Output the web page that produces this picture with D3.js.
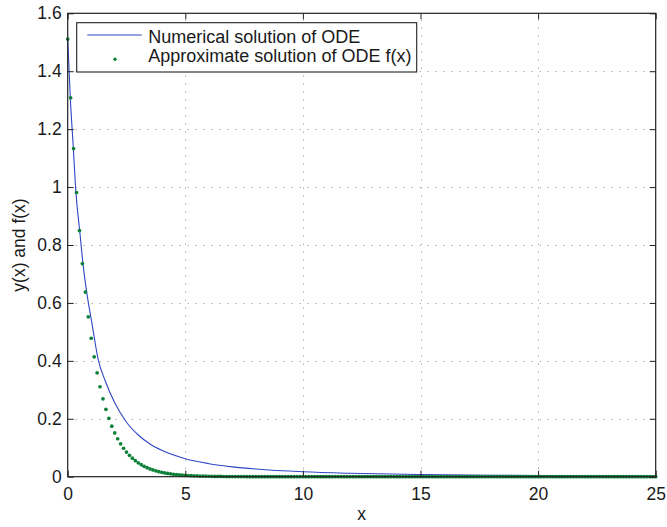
<!DOCTYPE html>
<html>
<head>
<meta charset="utf-8">
<script src="https://cdn.jsdelivr.net/npm/d3@7"></script>
<style>
  html, body { margin: 0; padding: 0; background: #fff; }
  svg { display: block; font-family: "Liberation Sans", Arial, Helvetica, sans-serif; }
</style>
</head>
<body>
<svg id="chart" width="667" height="527"></svg>
<script>
// Numerical solution of the ODE (sampled along the curve)
const xNumerical = [0, 0.11, 0.24, 0.35, 0.51, 0.66, 0.83, 1.03, 1.3, 1.59, 2.0, 2.5, 3.0, 3.5, 4.0, 5, 6, 7, 8, 10, 12, 15, 18, 20, 25];
const yNumerical = [1.511, 1.309, 1.133, 0.981, 0.849, 0.728, 0.625, 0.53, 0.403, 0.332, 0.255, 0.188, 0.144, 0.113, 0.091, 0.062, 0.045, 0.034, 0.0265, 0.017, 0.0118, 0.0075, 0.0052, 0.0042, 0.0026];

// Approximate solution f(x), evaluated on a grid of step 0.125
const xApprox = [
  0, 0.125, 0.25, 0.375, 0.5, 0.625, 0.75, 0.875,
  1, 1.125, 1.25, 1.375, 1.5, 1.625, 1.75, 1.875,
  2, 2.125, 2.25, 2.375, 2.5, 2.625, 2.75, 2.875,
  3, 3.125, 3.25, 3.375, 3.5, 3.625, 3.75, 3.875,
  4, 4.125, 4.25, 4.375, 4.5, 4.625, 4.75, 4.875,
  5, 5.125, 5.25, 5.375, 5.5, 5.625, 5.75, 5.875,
  6, 6.125, 6.25, 6.375, 6.5, 6.625, 6.75, 6.875,
  7, 7.125, 7.25, 7.375, 7.5, 7.625, 7.75, 7.875,
  8, 8.125, 8.25, 8.375, 8.5, 8.625, 8.75, 8.875,
  9, 9.125, 9.25, 9.375, 9.5, 9.625, 9.75, 9.875,
  10, 10.125, 10.25, 10.375, 10.5, 10.625, 10.75, 10.875,
  11, 11.125, 11.25, 11.375, 11.5, 11.625, 11.75, 11.875,
  12, 12.125, 12.25, 12.375, 12.5, 12.625, 12.75, 12.875,
  13, 13.125, 13.25, 13.375, 13.5, 13.625, 13.75, 13.875,
  14, 14.125, 14.25, 14.375, 14.5, 14.625, 14.75, 14.875,
  15, 15.125, 15.25, 15.375, 15.5, 15.625, 15.75, 15.875,
  16, 16.125, 16.25, 16.375, 16.5, 16.625, 16.75, 16.875,
  17, 17.125, 17.25, 17.375, 17.5, 17.625, 17.75, 17.875,
  18, 18.125, 18.25, 18.375, 18.5, 18.625, 18.75, 18.875,
  19, 19.125, 19.25, 19.375, 19.5, 19.625, 19.75, 19.875,
  20, 20.125, 20.25, 20.375, 20.5, 20.625, 20.75, 20.875,
  21, 21.125, 21.25, 21.375, 21.5, 21.625, 21.75, 21.875,
  22, 22.125, 22.25, 22.375, 22.5, 22.625, 22.75, 22.875,
  23, 23.125, 23.25, 23.375, 23.5, 23.625, 23.75, 23.875,
  24, 24.125, 24.25, 24.375, 24.5, 24.625, 24.75, 24.875,
  25
];
const yApprox = [
  1.511, 1.3085, 1.1332, 0.9813, 0.8498, 0.7360, 0.6374, 0.5520,
  0.4780, 0.4140, 0.3585, 0.3105, 0.2689, 0.2328, 0.2016, 0.1746,
  0.1512, 0.1310, 0.1134, 0.0982, 0.0851, 0.0737, 0.0638, 0.0552,
  0.0478, 0.0414, 0.0359, 0.0311, 0.0269, 0.0233, 0.0202, 0.0175,
  0.0151, 0.0131, 0.0113, 0.0098, 0.0085, 0.0074, 0.0064, 0.0055,
  0.0048, 0.0041, 0.0036, 0.0031, 0.0027, 0.0023, 0.0020, 0.0017,
  0.0015, 0.0013, 0.0011, 0.0010, 0.0008, 0.0007, 0.0006, 0.0005,
  0.0005, 0.0004, 0.0003, 0.0003, 0.0003, 0.0002, 0.0002, 0.0002,
  0.0001, 0.0001, 0.0001, 0.0001, 0.0001, 0.0001, 0.0001, 0,
  0, 0, 0, 0, 0, 0, 0, 0,
  0, 0, 0, 0, 0, 0, 0, 0,
  0, 0, 0, 0, 0, 0, 0, 0,
  0, 0, 0, 0, 0, 0, 0, 0,
  0, 0, 0, 0, 0, 0, 0, 0,
  0, 0, 0, 0, 0, 0, 0, 0,
  0, 0, 0, 0, 0, 0, 0, 0,
  0, 0, 0, 0, 0, 0, 0, 0,
  0, 0, 0, 0, 0, 0, 0, 0,
  0, 0, 0, 0, 0, 0, 0, 0,
  0, 0, 0, 0, 0, 0, 0, 0,
  0, 0, 0, 0, 0, 0, 0, 0,
  0, 0, 0, 0, 0, 0, 0, 0,
  0, 0, 0, 0, 0, 0, 0, 0,
  0, 0, 0, 0, 0, 0, 0, 0,
  0, 0, 0, 0, 0, 0, 0, 0,
  0
];

const xTicks = [0, 5, 10, 15, 20, 25];
const yTicks = [0, 0.2, 0.4, 0.6, 0.8, 1, 1.2, 1.4, 1.6];
const seriesNames = ["Numerical solution of ODE", "Approximate solution of ODE f(x)"];
const xLabel = "x";
const yLabel = "y(x) and f(x)";

// Layout
const W = 667, H = 527;
const plot = { left: 67.7, right: 655.7, top: 13.3, bottom: 476.7 };
const lineColor = "#2f47c4";
const dotColor = "#0e8038";
const axisColor = "#222";

const svg = d3.select("#chart");

const x = d3.scaleLinear().domain([0, 25]).range([plot.left, plot.right]);
const y = d3.scaleLinear().domain([0, 1.6]).range([plot.bottom, plot.top]);

// Dotted grid
const grid = svg.append("g").attr("stroke", "#8a8a8a").attr("stroke-width", 1)
  .attr("stroke-dasharray", "1,7").attr("fill", "none");
grid.selectAll("line.vx").data(xTicks.slice(1, -1)).join("line")
  .attr("x1", d => Math.round(x(d)) + 0.5).attr("x2", d => Math.round(x(d)) + 0.5)
  .attr("y1", plot.bottom).attr("y2", plot.top);
grid.selectAll("line.hy").data(yTicks.slice(1, -1)).join("line")
  .attr("y1", d => Math.round(y(d)) + 0.5).attr("y2", d => Math.round(y(d)) + 0.5)
  .attr("x1", plot.left).attr("x2", plot.right);

// Numerical solution curve
const numData = xNumerical.map((v, i) => [v, yNumerical[i]]);
svg.append("path")
  .datum(numData)
  .attr("fill", "none")
  .attr("stroke", lineColor)
  .attr("stroke-width", 1.1)
  .attr("d", d3.line().x(d => x(d[0])).y(d => y(d[1])).curve(d3.curveMonotoneX));

// Approximate solution markers
const apxData = xApprox.map((v, i) => [v, yApprox[i]]);
svg.append("g").attr("fill", dotColor)
  .selectAll("circle").data(apxData).join("circle")
  .attr("cx", d => x(d[0])).attr("cy", d => y(d[1])).attr("r", 1.85);

// Axes: ticks point inward on all four sides
const fontSize = 17.5;
const styleAxis = g => {
  g.select(".domain").remove();
  g.selectAll(".tick line").attr("stroke", axisColor).attr("stroke-width", 1);
  g.selectAll(".tick text").attr("fill", "#1a1a1a").attr("font-size", fontSize)
    .attr("font-family", "Liberation Sans, Arial, sans-serif");
};
svg.append("g").attr("transform", `translate(0,${plot.bottom})`)
  .call(d3.axisBottom(x).tickValues(xTicks).tickSize(-6).tickPadding(11).tickFormat(d3.format("d")))
  .call(styleAxis);
svg.append("g").attr("transform", `translate(${plot.left},0)`)
  .call(d3.axisLeft(y).tickValues(yTicks).tickSize(-6).tickPadding(6).tickFormat(d => String(+d.toFixed(1))))
  .call(styleAxis);
svg.append("g").attr("transform", `translate(0,${plot.top})`)
  .call(d3.axisTop(x).tickValues(xTicks).tickSize(-6).tickFormat(""))
  .call(styleAxis);
svg.append("g").attr("transform", `translate(${plot.right},0)`)
  .call(d3.axisRight(y).tickValues(yTicks).tickSize(-6).tickFormat(""))
  .call(styleAxis);

// Box
svg.append("rect")
  .attr("x", plot.left).attr("y", plot.top)
  .attr("width", plot.right - plot.left).attr("height", plot.bottom - plot.top)
  .attr("fill", "none").attr("stroke", axisColor).attr("stroke-width", 1.2);

// Axis titles
svg.append("text").attr("x", (plot.left + plot.right) / 2).attr("y", 520)
  .attr("text-anchor", "middle").attr("font-size", fontSize).attr("fill", "#1a1a1a").text(xLabel);
svg.append("text")
  .attr("transform", `translate(25,${(plot.top + plot.bottom) / 2}) rotate(-90)`)
  .attr("text-anchor", "middle").attr("font-size", fontSize).attr("fill", "#1a1a1a").text(yLabel);

// Legend
const lg = svg.append("g");
lg.append("rect").attr("x", 76.7).attr("y", 22.7).attr("width", 340).attr("height", 49.3)
  .attr("fill", "#fff").attr("stroke", axisColor).attr("stroke-width", 1.1);
lg.append("line").attr("x1", 87.3).attr("x2", 141.7).attr("y1", 35).attr("y2", 35)
  .attr("stroke", lineColor).attr("stroke-width", 1.1);
lg.append("circle").attr("cx", 115).attr("cy", 59.3).attr("r", 1.7).attr("fill", dotColor);
lg.selectAll("text").data(seriesNames).join("text")
  .attr("x", 148.3).attr("y", (d, i) => 42.5 + i * 19.8)
  .attr("font-size", 18).attr("fill", "#1a1a1a").text(d => d);
</script>
</body>
</html>
